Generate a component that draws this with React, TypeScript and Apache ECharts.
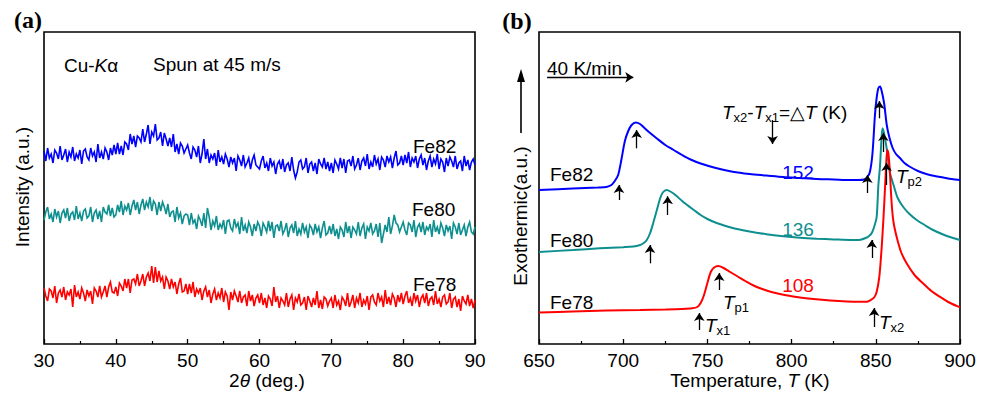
import React, { useEffect, useRef } from 'react';
import * as echarts from 'echarts';

const FONT = '"Liberation Sans", Arial, Helvetica, sans-serif';
const SERIF = '"Liberation Serif", "Times New Roman", serif';
const BLUE = '#0000ff';
const TEAL = '#0e8f8f';
const RED = '#ff0000';

// ---------- (a) XRD patterns, 2theta from 30 to 90 deg in 0.25 deg steps ----------
const xrdStart = 30;
const xrdStep = 0.25;
const xrdFe82 = [
  193,183,196,186,190,181,194,191,185,198,184,189,195,182,192,187,197,183,190,186,194,180,193,195,187,184,196,188,192,182,200,186,192,185,196,192,184,196,189,199,
  190,201,190,198,189,202,200,194,210,200,208,197,208,206,202,215,202,210,219,200,212,208,220,204,206,212,198,211,205,198,206,197,210,192,200,190,201,198,191,195,
  199,191,185,197,194,187,198,181,190,205,185,195,181,189,185,191,178,194,182,187,180,190,185,177,187,181,186,173,188,184,178,189,177,181,186,175,184,189,179,177,
  175,183,188,176,181,173,186,178,182,170,180,183,175,185,172,179,181,173,187,174,166,172,182,184,175,177,186,171,180,182,173,181,170,185,180,177,186,175,182,173,
  181,171,184,180,175,186,176,185,171,183,184,178,188,175,179,186,174,183,186,178,190,175,182,177,189,180,185,174,187,184,177,188,182,187,176,186,193,179,181,188,
  179,189,181,192,177,186,182,188,176,185,189,179,186,174,183,188,177,185,180,190,175,185,182,172,186,178,187,183,177,188,175,181,183,173,188,178,184,174,182,185,179,
];
const xrdFe80 = [
  124,132,137,125,130,122,135,127,133,121,131,134,126,136,123,130,132,124,138,125,131,123,133,135,126,128,137,122,131,134,125,133,122,137,132,130,139,128,136,127,
  129,139,132,143,129,138,134,141,129,138,144,134,142,130,139,145,134,142,137,147,133,143,140,129,142,133,142,137,130,140,127,132,133,122,137,126,131,120,128,130,
  129,119,131,121,124,115,128,124,118,131,116,136,127,114,123,118,128,114,120,116,124,110,123,124,116,113,125,117,121,110,127,113,119,111,122,117,108,120,113,122,
  118,108,121,117,112,123,113,122,106,118,119,113,123,110,114,121,107,116,119,111,123,108,115,110,121,112,117,106,119,116,109,120,112,117,106,116,123,109,111,118,
  110,120,108,115,105,117,114,107,122,111,118,106,117,114,110,122,108,116,120,105,117,113,121,110,113,120,107,121,101,110,119,112,127,110,118,129,121,119,112,117,
  122,114,109,121,119,112,124,107,117,120,112,122,109,117,114,120,107,124,112,117,110,121,116,108,119,113,118,105,121,117,110,121,109,114,119,108,117,122,112,110,117,
];
const xrdFe78 = [
  56,48,43,55,53,46,58,41,51,54,47,57,44,52,49,55,37,59,47,52,45,56,51,43,54,48,53,40,56,53,47,58,47,52,58,47,57,62,52,51,
  57,48,61,58,53,65,56,65,51,64,65,60,70,58,63,70,58,67,71,63,78,61,77,62,73,63,67,55,67,63,55,65,57,62,50,60,66,52,53,60,
  50,60,51,62,47,55,51,56,44,53,57,47,54,41,50,55,44,51,46,56,42,52,48,34,52,44,53,48,42,53,41,47,49,38,53,43,49,38,46,49,
  41,51,39,46,36,48,45,38,57,42,48,36,46,43,39,51,37,45,49,34,46,42,50,39,41,47,34,48,43,37,46,39,53,36,44,35,47,45,38,43,
  46,36,49,39,43,34,47,44,38,51,37,42,49,36,46,41,51,37,44,40,48,34,47,49,42,39,51,43,47,37,54,40,47,39,50,46,37,49,42,51,
  40,48,53,41,46,38,51,43,49,37,46,49,41,51,38,45,47,39,53,40,45,37,47,49,40,42,51,36,45,47,37,45,33,48,43,40,49,38,45,36,44,
];

// ---------- (b) DSC curves ----------
const dscFe82T = [650,670,685,690,693,695,697,699,701,703,705,707.5,710,712,716,720,725,730,735,740,746,755,765,775,785,795,805,815,825,835,840,843,845,846.5,848,849.5,850.5,851.5,852.5,853.5,855,856.5,858,860,862,864.5,867,870,875,880,885,890,895,900];
const dscFe82 = [154,155.5,156.5,157,159,163,169,185,203,213,219,221.5,220,217,211,205.5,199,194,189,184.5,180.5,176,172.3,170,168.5,167,166,165,164.5,164,164,164.5,167,172,190,229,246,255.7,257.5,253,240,219,207,196,190,185.7,181,177.5,173,170,168,166.5,165,164];
const dscFe80T = [650,670,686,700,706,710,712,714,716,718,720,722,723.5,725.8,728,731,735,738,742,746,750,755.5,765,775,785,795,805,815,825,835,841,844,846,847.6,849,850.5,851.5,852.5,853.3,854,855,856.5,858.4,860,861.4,863,866.3,870,874.3,879,884,890,895,900];
const dscFe80 = [92,94,95.7,96.8,97.5,99,100.7,104,111,122,134,146,151.5,154,152.5,149,143,139,134,129,125,121,116,112.5,109.8,107.8,106.3,105.3,104.6,104,104.3,106,108,111,117,127,158,178,203,215.7,210,195,171,162,154,146,137,130,124,119,114,109.5,106.5,104];
const dscFe78T = [650,670,690,710,725,735,741,744,746,748,750,752,754,756.5,759,763,768,773,778,783,788,793,803,813,823,833,840,845,847,849,850.5,852,853,854,855,856,856.8,857.5,858.3,859.4,860.5,862.4,865,868.3,873,878,883,888,893,899,900];
const dscFe78 = [31.5,32.5,33.5,34,34.5,35,35.7,37,41,49,61,72,76.5,78,76.5,72.5,67.5,62.5,58,54.7,52,50,47,45,43.5,42.5,42.2,42.3,44,46.5,52,66,85,110,140,174,194,190,174,141,122,107,92,80.7,69,60.7,53,47.3,42,37.3,36.8];

// arrows: [T, tail, tip] for Tx1, Tp1, Tx2, Tp2
const arrowsFe82 = [[697.5, 144, 159], [708, 195.7, 214], [845, 151, 169], [852.1, 225.7, 243]];
const arrowsFe80 = [[715.9, 80.7, 99], [726.4, 129, 147.7], [847.6, 86, 104], [854.5, 192, 211]];
const arrowsFe78 = [[745.2, 14, 31], [757, 54, 71], [849, 17, 36], [856.4, 159, 181]];
const deltaT = ['152', '136', '108'];
const alloys = ['Fe82', 'Fe80', 'Fe78'];

const rich = {
  i: { fontStyle: 'italic', fontSize: 19, fontFamily: FONT, lineHeight: 24, fill: '#000' },
  s: { fontSize: 13, fontFamily: FONT, lineHeight: 12, verticalAlign: 'bottom', fill: '#000' },
};

function txt(x: number, y: number, text: string, extra: any = {}, el: any = {}) {
  return {
    type: 'text',
    x,
    y,
    silent: true,
    ...el,
    style: {
      text,
      fill: '#000',
      fontSize: 19,
      fontFamily: FONT,
      align: 'left',
      verticalAlign: 'middle',
      rich,
      ...extra,
    },
  };
}

function arrowMarks(list: number[][]) {
  return list.map(([t, a, b]) => [{ coord: [t, a] }, { coord: [t, b] }]);
}

export default function App() {
  const ref = useRef<HTMLDivElement>(null);
  useEffect(() => {
    if (!ref.current) return;
    const chart = echarts.init(ref.current, null, { renderer: 'svg', width: 989, height: 394 });

    const axisCommon = {
      type: 'value',
      axisLine: { show: false },
      axisTick: { show: true, inside: true, length: 5, lineStyle: { color: '#000', width: 1.3 } },
      minorTick: { show: true, splitNumber: 2, length: 3, lineStyle: { color: '#000', width: 1.2 } },
      splitLine: { show: false },
      minorSplitLine: { show: false },
      axisLabel: { color: '#000', fontSize: 19, fontFamily: FONT, margin: 7 },
    };

    const xrdSeries = [
      { data: xrdFe82, color: BLUE },
      { data: xrdFe80, color: TEAL },
      { data: xrdFe78, color: RED },
    ].map((s) => ({
      type: 'line',
      xAxisIndex: 0,
      yAxisIndex: 0,
      symbol: 'none',
      silent: true,
      data: s.data.map((v, i) => [xrdStart + i * xrdStep, v]),
      lineStyle: { color: s.color, width: 1.6, join: 'miter' },
    }));

    const markCommon = {
      silent: true,
      symbol: ['none', 'arrow'],
      symbolSize: 8,
      label: { show: false },
      lineStyle: { color: '#000', width: 1.3, type: 'solid' },
      emphasis: { disabled: true },
      animation: false,
    };

    const dscDefs = [
      { t: dscFe82T, v: dscFe82, color: BLUE, arrows: arrowsFe82, extra: [
        [{ coord: [654.8, 266.7] }, { coord: [706, 266.7] }],
        [{ coord: [788.7, 224] }, { coord: [788.7, 200] }],
      ] },
      { t: dscFe80T, v: dscFe80, color: TEAL, arrows: arrowsFe80, extra: [] },
      { t: dscFe78T, v: dscFe78, color: RED, arrows: arrowsFe78, extra: [] },
    ];
    const dscSeries = dscDefs.map((s) => ({
      type: 'line',
      xAxisIndex: 1,
      yAxisIndex: 1,
      symbol: 'none',
      silent: true,
      smooth: 0.3,
      data: s.t.map((t, i) => [t, s.v[i]]),
      lineStyle: { color: s.color, width: 2 },
      markLine: { ...markCommon, data: [...arrowMarks(s.arrows), ...s.extra] },
    }));

    const graphic: any[] = [
      txt(28, 20, '(a)', { align: 'center', fontFamily: SERIF, fontWeight: 'bold', fontSize: 24 }),
      txt(517, 21, '(b)', { align: 'center', fontFamily: SERIF, fontWeight: 'bold', fontSize: 24 }),
      txt(64, 65, 'Cu-{i|K}α'),
      txt(153, 64, 'Spun at 45 m/s'),
      txt(413, 146, alloys[0]),
      txt(412, 209, alloys[1]),
      txt(413, 284, alloys[2]),
      txt(22, 187, 'Intensity (a.u.)', { align: 'center' }, { rotation: Math.PI / 2 }),
      txt(267, 380, '2{i|θ} (deg.)', { align: 'center' }),
      txt(750, 380, 'Temperature, {i|T} (K)', { align: 'center' }),
      txt(520, 216, 'Exothermic(a.u.)', { align: 'center' }, { rotation: Math.PI / 2 }),
      txt(547, 68, '40 K/min'),
      txt(722, 112, '{i|T}{s|x2}-{i|T}{s|x1}=△{i|T} (K)'),
      txt(798, 172, deltaT[0], { align: 'center', fill: BLUE }),
      txt(798, 229, deltaT[1], { align: 'center', fill: TEAL }),
      txt(798, 285, deltaT[2], { align: 'center', fill: RED }),
      txt(550, 174, alloys[0]),
      txt(550, 240, alloys[1]),
      txt(550, 302, alloys[2]),
      txt(723, 302, '{i|T}{s|p1}'),
      txt(705, 325, '{i|T}{s|x1}'),
      txt(879, 322, '{i|T}{s|x2}'),
      txt(896, 176, '{i|T}{s|p2}'),
      {
        type: 'line',
        silent: true,
        shape: { x1: 521, y1: 133, x2: 521, y2: 78 },
        style: { stroke: '#000', lineWidth: 1.6 },
      },
      {
        type: 'polygon',
        silent: true,
        shape: { points: [[517, 82], [525, 82], [521, 69]] },
        style: { fill: '#000' },
      },
    ];

    chart.setOption({
      animation: false,
      backgroundColor: '#fff',
      grid: [
        { left: 44, top: 32, width: 431, height: 312, show: true, borderColor: '#000', borderWidth: 1.6, backgroundColor: 'transparent' },
        { left: 539, top: 32, width: 421, height: 312, show: true, borderColor: '#000', borderWidth: 1.6, backgroundColor: 'transparent' },
      ],
      xAxis: [
        { ...axisCommon, gridIndex: 0, min: 30, max: 90, interval: 10 },
        { ...axisCommon, gridIndex: 1, min: 650, max: 900, interval: 50 },
      ],
      yAxis: [
        { type: 'value', gridIndex: 0, min: 0, max: 312, show: false },
        { type: 'value', gridIndex: 1, min: 0, max: 312, show: false },
      ],
      series: [...xrdSeries, ...dscSeries],
      graphic,
    });

    return () => chart.dispose();
  }, []);

  return (
    <div
      ref={ref}
      style={{ position: 'absolute', left: 0, top: 0, width: 989, height: 394, background: '#fff' }}
    />
  );
}
